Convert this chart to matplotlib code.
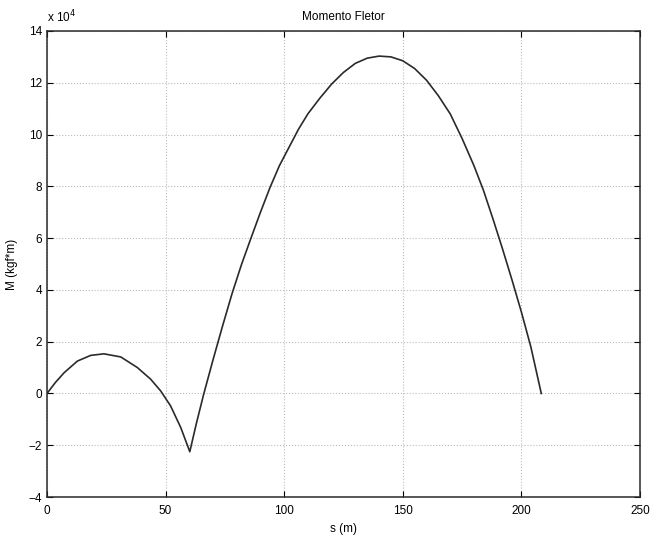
import matplotlib
matplotlib.use("Agg")
import matplotlib.pyplot as plt

# pontos (s em m, M em 10^4 kgf*m)
s = [0.0, 3.5, 7.2, 12.8, 18.4, 24.0, 31.1, 38.1, 43.7, 47.9, 52.1, 56.4, 60.2,
     63.0, 66.0, 70.0, 74.0, 78.0, 82.0, 86.0, 90.0, 94.0, 98.0, 102.0, 106.0,
     110.0, 115.0, 120.0, 125.0, 130.0, 135.0, 140.0, 145.0, 150.0, 155.0,
     160.0, 165.0, 170.0, 175.0, 180.0, 184.0, 188.0, 192.0, 196.0, 200.0,
     204.0, 208.4]
M = [0.0, 0.42, 0.80, 1.25, 1.47, 1.53, 1.41, 1.00, 0.55, 0.10, -0.48, -1.32, -2.25,
     -1.15, -0.05, 1.30, 2.60, 3.85, 4.98, 6.00, 7.00, 7.95, 8.80, 9.50, 10.20,
     10.80, 11.40, 11.95, 12.40, 12.75, 12.95, 13.03, 13.00, 12.85, 12.55,
     12.10, 11.50, 10.80, 9.85, 8.80, 7.85, 6.75, 5.60, 4.40, 3.15,
     1.80, 0.0]

xticks = [0, 50, 100, 150, 200, 250]
yticks = [-4, -2, 0, 2, 4, 6, 8, 10, 12, 14]

plt.rcParams['font.family'] = ['Liberation Sans', 'DejaVu Sans']

fig = plt.figure(figsize=(6.53, 5.38), dpi=100)
ax = fig.add_axes([0.072, 0.0762, 0.908, 0.8662])

ax.plot(s, M, color='#2a2a2a', linewidth=1.2)

ax.set_xlim(0, 250)
ax.set_ylim(-4, 14)
ax.set_xticks(xticks)
ax.set_yticks(yticks)
ax.tick_params(direction='in', top=True, right=True, labelsize=8.5, length=4, width=0.8)
ax.tick_params(axis='x', pad=6)
ax.grid(True, linestyle=':', color='#bbbbbb', linewidth=0.8)
for sp in ax.spines.values():
    sp.set_linewidth(1.1)
    sp.set_color('#2a2a2a')

ax.set_title('Momento Fletor', fontsize=8.5, pad=8)
ax.set_xlabel('s (m)', fontsize=8.5, labelpad=4)
ax.set_ylabel('M (kgf*m)', fontsize=8.5, labelpad=8)
ax.text(0.0, 1.012, r'x 10$^4$', transform=ax.transAxes, fontsize=8.5, ha='left', va='bottom')

plt.savefig('out.png', dpi=100)
